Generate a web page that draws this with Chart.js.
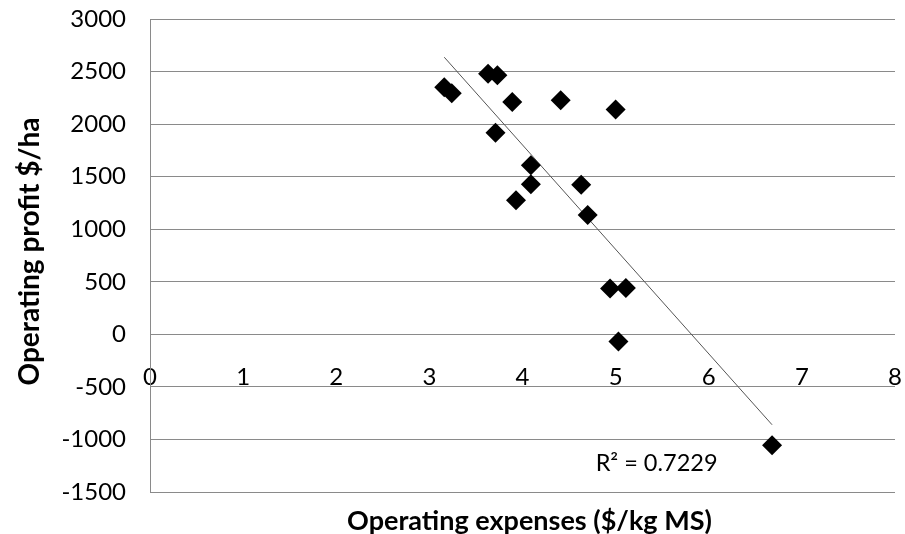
<!DOCTYPE html>
<html>
<head>
<meta charset="utf-8">
<script src="https://cdn.jsdelivr.net/npm/chart.js@4.4.1/dist/chart.umd.min.js"></script>
<style>
  html, body { margin: 0; padding: 0; background: #fff; }
  #wrap { width: 905px; height: 534px; }
</style>
</head>
<body>
<div id="wrap"><canvas id="scatterChart"></canvas></div>
<script>
"use strict";

// data
const expenses = [3.16, 3.24, 3.63, 3.73, 3.89, 4.41, 5.00, 3.71, 4.09, 4.09, 4.63, 3.93, 4.70, 4.94, 5.11, 5.03, 6.68];
const profits = [2350, 2293, 2480, 2464, 2210, 2226, 2138, 1919, 1608, 1427, 1424, 1275, 1135, 435, 441, -67, -1056];
const rSquaredText = "R² = 0.7229";

const xTitle = "Operating expenses ($/kg MS)";
const yTitle = "Operating profit $/ha";

const gridColor = '#8a8a8a';
const fontName = 'Lato';

// least squares trend line, spans the range of x like Excel does
const n = expenses.length;
const meanX = expenses.reduce((a, b) => a + b, 0) / n;
const meanY = profits.reduce((a, b) => a + b, 0) / n;
let sxy = 0, sxx = 0;
for (let i = 0; i < n; i++) {
    sxy += (expenses[i] - meanX) * (profits[i] - meanY);
    sxx += (expenses[i] - meanX) * (expenses[i] - meanX);
}
const slope = sxy / sxx;
const intercept = meanY - slope * meanX;
const minX = Math.min(...expenses);
const maxX = Math.max(...expenses);
const trend = [
    { x: minX, y: slope * minX + intercept },
    { x: maxX, y: slope * maxX + intercept }
];

const points = expenses.map((x, i) => ({ x: x, y: profits[i] }));

// R² label and the two axis titles
const labelsPlugin = {
    id: 'labels',
    afterDatasetsDraw(chart) {
        const ctx = chart.ctx;
        const area = chart.chartArea;
        ctx.save();
        ctx.fillStyle = '#000';
        ctx.textAlign = 'center';
        ctx.textBaseline = 'middle';

        ctx.font = '23.5px ' + fontName;
        ctx.fillText(rSquaredText,
            chart.scales.x.getPixelForValue(5.44),
            chart.scales.y.getPixelForValue(-1227));

        ctx.font = 'bold 27px ' + fontName;
        ctx.fillText(xTitle, (area.left + area.right) / 2 + 7, area.bottom + 29);

        ctx.translate(30, (area.top + area.bottom) / 2 - 4);
        ctx.rotate(-Math.PI / 2);
        ctx.font = 'bold 28px ' + fontName;
        ctx.fillText(yTitle, 0, 0);
        ctx.restore();
    }
};

const noPad = (scale) => {
    scale.paddingLeft = 0;
    scale.paddingRight = 0;
    scale.paddingTop = 0;
    scale.paddingBottom = 0;
};

const ctx = document.getElementById('scatterChart');

const chart = new Chart(ctx, {
    type: 'scatter',
    data: {
        datasets: [
            {
                label: 'Farms',
                data: points,
                pointStyle: 'rectRot',
                pointRadius: 10,
                pointHoverRadius: 10,
                backgroundColor: '#000',
                borderColor: '#000',
                borderWidth: 0
            },
            {
                label: 'Linear',
                type: 'line',
                data: trend,
                borderColor: '#555',
                borderWidth: 1,
                pointRadius: 0,
                fill: false
            }
        ]
    },
    options: {
        responsive: true,
        maintainAspectRatio: false,
        animation: false,
        events: [],
        layout: {
            padding: { left: 0, top: 19, right: 7, bottom: 42 }
        },
        plugins: {
            legend: { display: false },
            tooltip: { enabled: false }
        },
        scales: {
            x: {
                type: 'linear',
                position: { y: 0 },
                min: 0,
                max: 8,
                ticks: {
                    stepSize: 1,
                    padding: 29,
                    color: '#000',
                    font: { family: fontName, size: 24 },
                    callback: (v) => String(v)
                },
                grid: { display: false, drawTicks: false },
                border: { display: false },
                afterFit: noPad
            },
            y: {
                min: -1500,
                max: 3000,
                ticks: {
                    stepSize: 500,
                    padding: 24,
                    color: '#000',
                    font: { family: fontName, size: 24 },
                    callback: (v) => String(v)
                },
                grid: { color: gridColor, lineWidth: 1, drawTicks: false },
                border: { display: true, color: gridColor, width: 1 },
                afterFit(scale) { noPad(scale); scale.width = 150; }
            }
        }
    },
    plugins: [labelsPlugin]
});
</script>
</body>
</html>
